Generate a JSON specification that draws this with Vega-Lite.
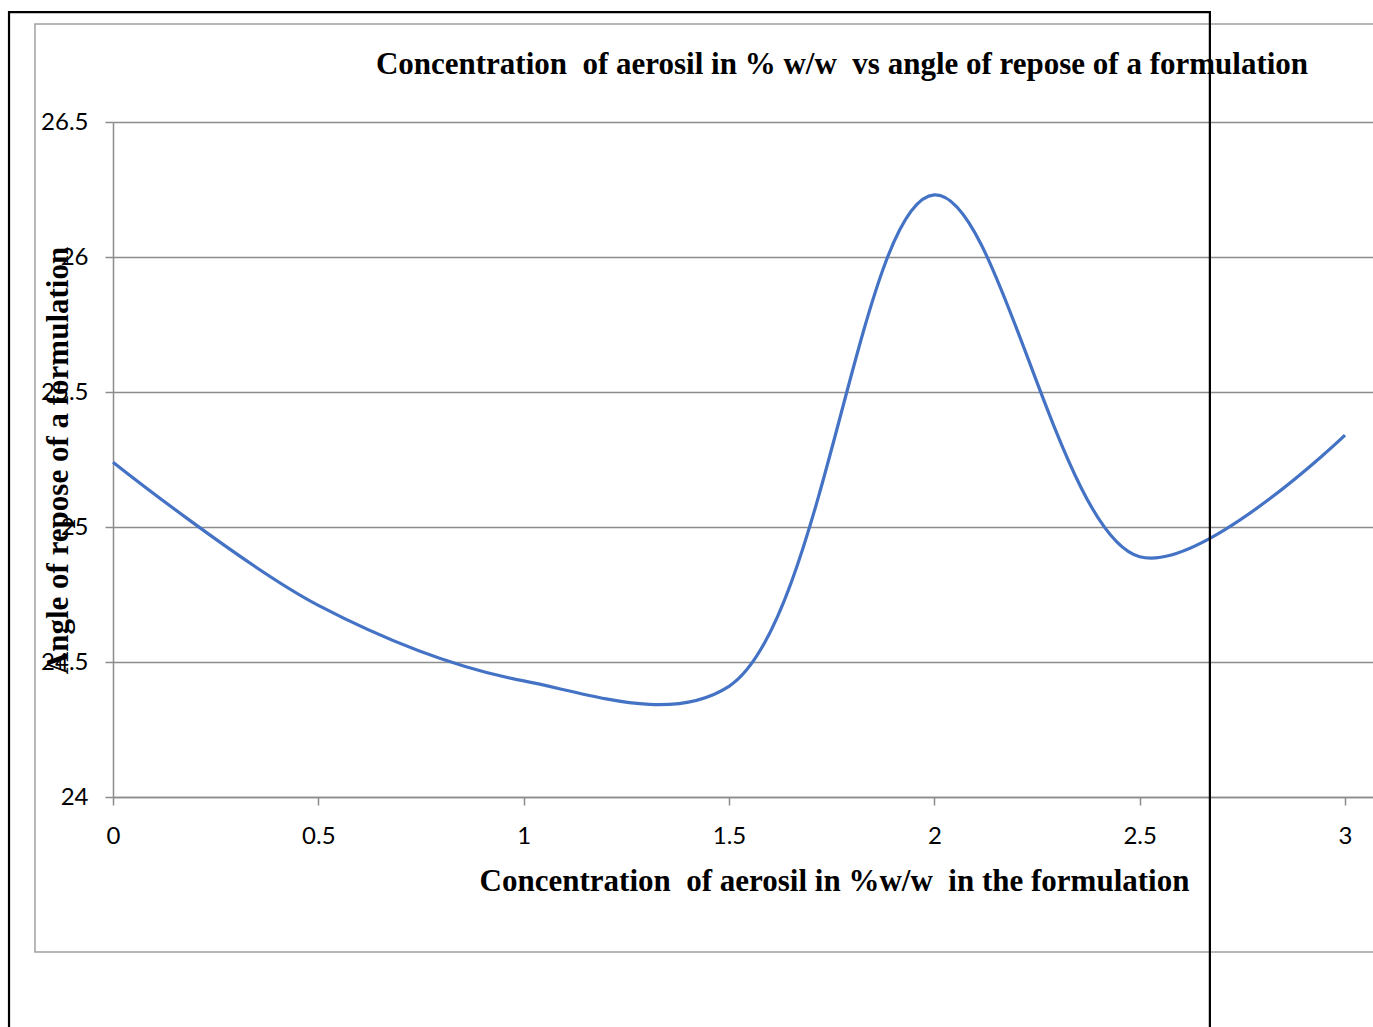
{
  "$schema": "https://vega.github.io/schema/vega-lite/v6.json",
  "width": 1260,
  "height": 675,
  "autosize": {"type": "none"},
  "padding": {"left": 113, "top": 122, "right": 0, "bottom": 230},
  "background": "white",
  "title": {
    "text": "Concentration\u00a0 of aerosil in % w/w\u00a0 vs angle of repose of a formulation",
    "font": "Liberation Serif",
    "fontSize": 31,
    "fontWeight": "bold",
    "color": "black",
    "anchor": "middle",
    "frame": "group",
    "dx": 99,
    "baseline": "alphabetic",
    "offset": -94
  },
  "config": {
    "view": {"stroke": null},
    "axis": {
      "labelFont": "Lato",
      "labelFontSize": 24,
      "labelColor": "black",
      "labelFlush": false,
      "titleFont": "Liberation Serif",
      "titleFontSize": 31,
      "titleFontWeight": "bold",
      "titleColor": "black",
      "domainColor": "#8c8c8c",
      "domainWidth": 1.5,
      "tickColor": "#8c8c8c",
      "tickWidth": 1.5,
      "tickSize": 8,
      "gridColor": "#8c8c8c",
      "gridWidth": 1.5
    }
  },
  "layer": [
    {
      "data": {
        "values": [
          {"conc": 0, "angle": 25.24},
          {"conc": 0.5, "angle": 24.71},
          {"conc": 1, "angle": 24.43},
          {"conc": 1.5, "angle": 24.41},
          {"conc": 2, "angle": 26.23},
          {"conc": 2.5, "angle": 24.89},
          {"conc": 3, "angle": 25.34}
        ]
      },
      "mark": {"type": "line", "interpolate": "catmull-rom", "color": "#4472C4", "strokeWidth": 3.2},
      "encoding": {
        "x": {
          "field": "conc",
          "type": "quantitative",
          "scale": {"domain": [0, 3.0682], "nice": false, "zero": false},
          "axis": {
            "title": "Concentration\u00a0 of aerosil in %w/w\u00a0 in the formulation",
            "values": [0, 0.5, 1, 1.5, 2, 2.5, 3],
            "format": ".1~f",
            "grid": false,
            "labelBaseline": "middle",
            "labelPadding": 31,
            "titleX": 721,
            "titleY": 93,
            "titleBaseline": "alphabetic",
            "titleAnchor": null
          }
        },
        "y": {
          "field": "angle",
          "type": "quantitative",
          "scale": {"domain": [24, 26.5], "nice": false, "zero": false},
          "axis": {
            "title": "Angle of repose of a formulation",
            "values": [24, 24.5, 25, 25.5, 26, 26.5],
            "format": ".1~f",
            "grid": true,
            "labelPadding": 17,
            "titleAngle": 270,
            "titleX": -55,
            "titleY": 338,
            "titleAlign": "center",
            "titleBaseline": "middle",
            "titleAnchor": null
          }
        }
      }
    },
    {
      "data": {"values": [{}]},
      "mark": {"type": "rect", "filled": false, "stroke": "#a0a0a0", "strokeWidth": 1.5, "clip": false},
      "encoding": {
        "x": {"datum": -0.19, "type": "quantitative", "scale": {"domain": [0, 3.0682], "nice": false, "zero": false}},
        "x2": {"datum": 3.2},
        "y": {"datum": 26.863, "type": "quantitative", "scale": {"domain": [24, 26.5], "nice": false, "zero": false}},
        "y2": {"datum": 23.426}
      }
    },
    {
      "data": {"values": [{}]},
      "mark": {"type": "rect", "filled": false, "stroke": "black", "strokeWidth": 2.2, "clip": false},
      "encoding": {
        "x": {"datum": -0.2532, "type": "quantitative", "scale": {"domain": [0, 3.0682], "nice": false, "zero": false}},
        "x2": {"datum": 2.671},
        "y": {"datum": 26.907, "type": "quantitative", "scale": {"domain": [24, 26.5], "nice": false, "zero": false}},
        "y2": {"datum": 23.0}
      }
    }
  ]
}
